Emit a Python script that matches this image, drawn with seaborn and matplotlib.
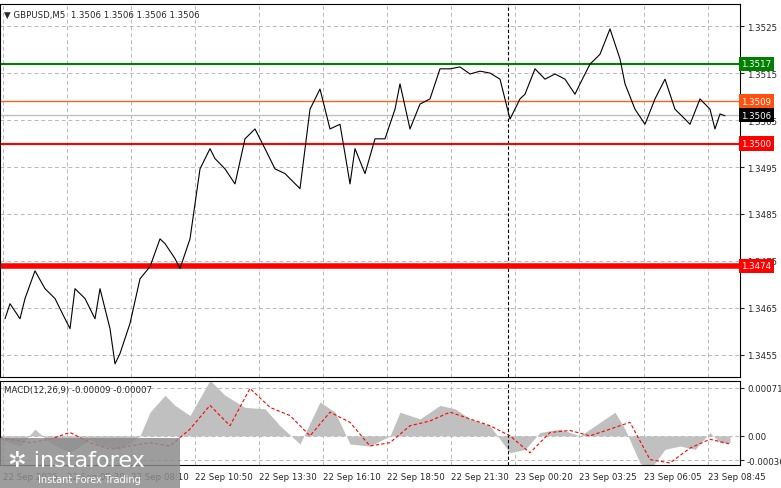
import numpy as np
import pandas as pd
import seaborn as sns
import matplotlib
matplotlib.use("Agg")
import matplotlib.pyplot as plt
from matplotlib.patches import Rectangle

sns.set_style("white")
plt.rcParams['font.family'] = ['DejaVu Sans']

# price path: bar index and price
price_bar = [2.5,5,10,12.5,17.5,22.5,27.5,32.5,35,37.5,42.5,47.5,50,55,57.5,60,62.5,65,70,75,80,82.5,87.5,90,95,100,105,107.5,112.5,117.5,122.5,127.5,132.5,137.5,142.5,150,155,160,165,170,172.5,175,177.5,182.5,187.5,192.5,197.5,200,205,210,215,220,225,230,235,240,245,250,255,255,260,262.5,267.5,272.5,277.5,282.5,287.5,290,295,300,305,310,312.5,317.5,322.5,327.5,332.5,337.5,342.5,345,350,355,357.5,360,362.5]
price_val = [1.34627,1.34659,1.34627,1.34670,1.34729,1.34691,1.34670,1.34627,1.34606,1.34691,1.34670,1.34627,1.34691,1.34606,1.34531,1.34553,1.34585,1.34617,1.34712,1.34738,1.34797,1.34787,1.34755,1.34734,1.34797,1.34946,1.34989,1.34968,1.34946,1.34914,1.35010,1.35031,1.34989,1.34946,1.34936,1.34904,1.35073,1.35116,1.35031,1.35041,1.34978,1.34914,1.34989,1.34936,1.35010,1.35010,1.35073,1.35127,1.35031,1.35084,1.35095,1.35159,1.35159,1.35163,1.35148,1.35154,1.35150,1.35137,1.35052,1.35052,1.35095,1.35105,1.35159,1.35137,1.35148,1.35137,1.35105,1.35127,1.35169,1.35190,1.35244,1.35180,1.35127,1.35073,1.35041,1.35095,1.35137,1.35073,1.35052,1.35041,1.35095,1.35073,1.35031,1.35063,1.35059]

# MACD histogram (x1e-5) and signal (x1e-5)
macd_bar = [0,10,17.5,25,35,45,50,60,70,75,82.5,87.5,95,105,112.5,122.5,132.5,140,150,160,167.5,175,185,195,200,210,220,227.5,235,245,255,262.5,270,280,290,297.5,307.5,312.5,320,325,332.5,340,347.5,355,360,365]
macd_val = [-5,-15,10,-10,-25,-5,-15,-20,0,35,60,45,30,82,60,42,40,15,-12,50,35,-12,-15,0,35,25,45,40,25,15,-25,-20,5,10,0,15,35,10,-40,-50,-20,-15,-20,5,-10,-10]
sig_bar = [0,15,25,35,45,55,65,75,85,95,105,115,125,135,145,155,165,175,185,195,205,215,225,235,245,255,265,275,285,295,305,315,325,335,345,355,365]
sig_val = [-3,-10,-5,5,-10,-20,-15,-10,-15,10,45,15,70,42,30,0,35,20,-15,-10,15,22,35,25,15,0,-25,5,8,0,10,20,-35,-40,-18,-5,-12]

date_pos = [1.5,33.5,65.5,97.5,129.5,161.5,193.5,225.5,257.5,289.5,322,354]
date_lab = ["22 Sep 2025","22 Sep 05:30","22 Sep 08:10","22 Sep 10:50","22 Sep 13:30","22 Sep 16:10",
            "22 Sep 18:50","22 Sep 21:30","23 Sep 00:20","23 Sep 03:25","23 Sep 06:05","23 Sep 08:45"]
price_ticks = [1.3455,1.3465,1.3475,1.3485,1.3495,1.3505,1.3515,1.3525]

levels = [(1.3517,"#008000",1.5,"#008000"),(1.3509,"#ff6020",1.0,"#ff5010"),
          (1.3500,"#ff0000",1.5,"#ff0000"),(1.3474,"#ff0000",4,"#ff0000"),(1.3506,"#c0c0c0",1.0,"#000000")]

FS = 6.2
fig = plt.figure(figsize=(7.81,4.89), dpi=100)
W,H = 781,489
ax = fig.add_axes([0, 1-378/H, 740/W, 373/H])
ax2 = fig.add_axes([0, 1-466/H, 740/W, 84/H])
for a in (ax, ax2):
    for s in a.spines.values(): s.set_color("black")
    a.set_xlim(0, 370)
    a.yaxis.tick_right()
    a.tick_params(axis='y', labelsize=FS, length=3, pad=2, direction='out')
    a.set_xticks(date_pos)
    a.grid(True, axis='both', color='#b8b8b8', ls=(0,(4,3)), lw=0.7)
    a.axvline(254, color='black', ls=(0,(3,2)), lw=0.8)

ax.set_ylim(1.34503, 1.35297)
ax.set_yticks(price_ticks)
ax.set_yticklabels([f"{v:.4f}" for v in price_ticks])
ax.tick_params(axis='x', labelbottom=False, length=0)
df = pd.DataFrame({"bar": price_bar, "price": price_val})
for lv,c,lw,bc in levels:
    ax.axhline(lv, color=c, lw=lw, zorder=2)
    ax.text(1.002, lv, f"{lv:.4f}", transform=ax.get_yaxis_transform(), ha='left', va='center',
            fontsize=FS, color='white', zorder=5,
            bbox=dict(boxstyle='square,pad=0.3', fc=bc, ec='none'))
sns.lineplot(data=df, x="bar", y="price", ax=ax, color='black', lw=0.8, zorder=3)
ax.set_xlabel(""); ax.set_ylabel("")
ax.text(0.005, 0.985, "▼ GBPUSD,M5  1.3506 1.3506 1.3506 1.3506", transform=ax.transAxes,
        fontsize=FS, va='top', ha='left')

m = np.array(macd_val)*1e-5
ax2.fill_between(macd_bar, 0, m, color='#c0c0c0', lw=0)
dfs = pd.DataFrame({"bar": sig_bar, "sig": np.array(sig_val)*1e-5})
sns.lineplot(data=dfs, x="bar", y="sig", ax=ax2, color='red', lw=0.8, ls=(0,(3,2)))
ax2.set_ylim(-0.00043, 0.00081)
ax2.set_yticks([-0.00036, 0.0, 0.00071])
ax2.set_yticklabels(["-0.00036","0.00","0.00071"])
ax2.set_xticklabels(date_lab, ha='left', fontsize=FS)
ax2.tick_params(axis='x', length=3, pad=2)
ax2.set_xlabel(""); ax2.set_ylabel("")
ax2.text(0.005, 0.95, "MACD(12,26,9) -0.00009 -0.00007", transform=ax2.transAxes, fontsize=FS, va='top')

fig.patches.append(Rectangle((0,0), 180/W, 50/H, transform=fig.transFigure, fc='#8c8c8c', alpha=0.85, ec='none', zorder=10))
fig.text(8/W, 1-461/H, "✲ instaforex", fontsize=16, color='white', va='center', zorder=11)
fig.text(38/W, 1-480/H, "Instant Forex Trading", fontsize=7, color='white', va='center', zorder=11)
fig.savefig("out.png", dpi=100)
